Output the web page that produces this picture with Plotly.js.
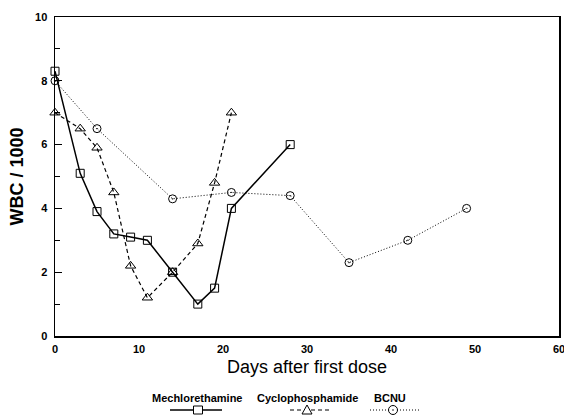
<!DOCTYPE html>
<html>
<head>
<meta charset="utf-8">
<script src="https://cdn.plot.ly/plotly-3.0.1.min.js"></script>
<style>html,body{margin:0;padding:0;background:#fff;}#chart{width:564px;height:415px;}</style>
</head>
<body>
<div id="chart"></div>
<script>
// ---- data ----
const seriesNames = ["Mechlorethamine", "Cyclophosphamide", "BCNU"];

const mechDays = [0, 3, 5, 7, 9, 11, 14, 17, 19, 21, 28];
const mechWBC  = [8.3, 5.1, 3.9, 3.2, 3.1, 3.0, 2.0, 1.0, 1.5, 4.0, 6.0];

const cycloDays = [0, 3, 5, 7, 9, 11, 14, 17, 19, 21];
const cycloWBC  = [7.0, 6.5, 5.9, 4.5, 2.2, 1.2, 2.0, 2.9, 4.8, 7.0];

const bcnuDays = [0, 5, 14, 21, 28, 35, 42, 49];
const bcnuWBC  = [8.0, 6.5, 4.3, 4.5, 4.4, 2.3, 3.0, 4.0];

const xTickVals = [0, 10, 20, 30, 40, 50, 60];
const yTickVals = [0, 2, 4, 6, 8, 10];

// ---- styles ----
const FONT = "Liberation Sans, Arial, Helvetica, sans-serif";
const styles = [
  {dash: "solid", width: 1.5, symbol: "square-open", size: 8},
  {dash: "4px,3px", width: 1.2, symbol: "triangle-up-open", size: 9},
  {dash: "1px,2px", width: 1, symbol: "circle-open-dot", size: 8}
];
const xs = [mechDays, cycloDays, bcnuDays];
const ys = [mechWBC, cycloWBC, bcnuWBC];

const traces = seriesNames.map((name, i) => ({
  type: "scatter",
  mode: "lines+markers",
  name: name,
  x: xs[i],
  y: ys[i],
  cliponaxis: false,
  line: {color: "#000", width: styles[i].width, dash: styles[i].dash},
  marker: {symbol: styles[i].symbol, size: styles[i].size, color: "#000",
           line: {color: "#000", width: 1}}
}));

// plot area in pixels (for custom legend placement)
const L = 55, R = 5, T = 17, B = 79, W = 564, H = 415;
const pw = W - L - R, ph = H - T - B;
const px = v => (v - L) / pw;
const py = v => (H - B - v) / ph;

const legendText = [197, 307, 390];
const legendSym = [198, 307, 393];
const legendLine = [[170, 222], [290, 330], [370, 419]];
const textY = 398, symY = 410;

const annotations = seriesNames.map((n, i) => ({
  text: n, xref: "paper", yref: "paper", x: px(legendText[i]), y: py(textY),
  xanchor: "center", yanchor: "middle", showarrow: false,
  font: {family: FONT, size: 11, color: "#000", weight: "bold"}
}));

const shapes = [];
seriesNames.forEach((n, i) => {
  shapes.push({type: "line", xref: "paper", yref: "paper",
    x0: px(legendLine[i][0]), x1: px(legendLine[i][1]), y0: py(symY), y1: py(symY),
    line: {color: "#000", width: styles[i].width, dash: styles[i].dash}});
});
const sx = [px(legendSym[0]), px(legendSym[1]), px(legendSym[2])];
const sy = py(symY);
shapes.push({type: "rect", xref: "paper", yref: "paper", xsizemode: "pixel", ysizemode: "pixel",
  xanchor: sx[0], yanchor: sy, x0: -4.5, x1: 4.5, y0: -4, y1: 4,
  fillcolor: "#fff", line: {color: "#000", width: 1}});
shapes.push({type: "path", xref: "paper", yref: "paper", xsizemode: "pixel", ysizemode: "pixel",
  xanchor: sx[1], yanchor: sy, path: "M-5,-4 L5,-4 L0,5 Z",
  fillcolor: "#fff", line: {color: "#000", width: 1}});
shapes.push({type: "circle", xref: "paper", yref: "paper", xsizemode: "pixel", ysizemode: "pixel",
  xanchor: sx[2], yanchor: sy, x0: -4.5, x1: 4.5, y0: -4.5, y1: 4.5,
  fillcolor: "#fff", line: {color: "#000", width: 1}});
shapes.push({type: "circle", xref: "paper", yref: "paper", xsizemode: "pixel", ysizemode: "pixel",
  xanchor: sx[2], yanchor: sy, x0: -0.8, x1: 0.8, y0: -0.8, y1: 0.8,
  fillcolor: "#000", line: {color: "#000", width: 0}});

const layout = {
  width: W, height: H,
  margin: {l: L, r: R, t: T, b: B},
  paper_bgcolor: "#fff", plot_bgcolor: "#fff",
  showlegend: false,
  font: {family: FONT, color: "#000"},
  xaxis: {
    range: [0, 60], tickvals: xTickVals, ticks: "", showgrid: false, zeroline: false,
    showline: true, linecolor: "#000", linewidth: 1.5, mirror: true,
    ticklabeloverflow: "allow", ticklabelstandoff: 2,
    tickfont: {family: FONT, size: 11, weight: "bold"},
    title: {text: "Days after first dose", font: {family: FONT, size: 18}, standoff: 6}
  },
  yaxis: {
    range: [0, 10], tickvals: yTickVals, ticks: "inside", ticklen: 7, tickwidth: 1, tickcolor: "#000",
    minor: {dtick: 1, ticks: "inside", ticklen: 5, tickcolor: "#000", showgrid: false},
    showgrid: false, zeroline: false,
    showline: true, linecolor: "#000", linewidth: 1.5, mirror: true,
    ticklabeloverflow: "allow", ticklabelstandoff: 4,
    tickfont: {family: FONT, size: 11, weight: "bold"},
    title: {text: "WBC / 1000", font: {family: FONT, size: 18, weight: "bold"}, standoff: 6}
  },
  annotations: annotations,
  shapes: shapes
};

Plotly.newPlot("chart", traces, layout, {staticPlot: true, displayModeBar: false});
</script>
</body>
</html>
